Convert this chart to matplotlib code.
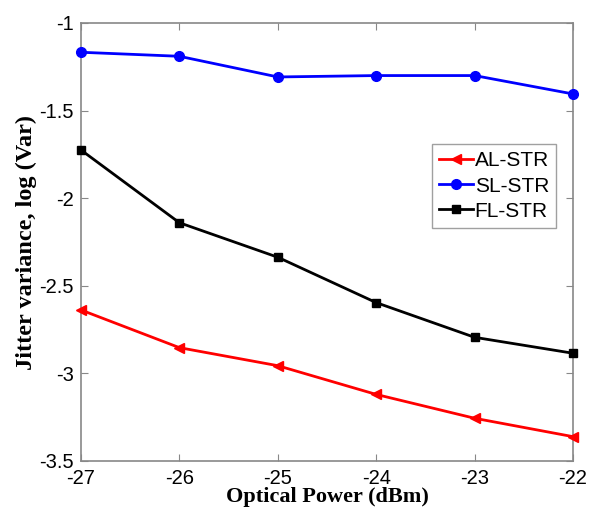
import matplotlib
matplotlib.use("Agg")
import matplotlib.pyplot as plt

power = [-27, -26, -25, -24, -23, -22]
al_str = [-2.638, -2.853, -2.956, -3.12, -3.256, -3.361]
sl_str = [-1.167, -1.19, -1.308, -1.30, -1.30, -1.405]
fl_str = [-1.725, -2.14, -2.337, -2.596, -2.794, -2.885]
xticks = [-27, -26, -25, -24, -23, -22]
yticks = [-3.5, -3, -2.5, -2, -1.5, -1]
ytick_labels = ["-3.5", "-3", "-2.5", "-2", "-1.5", "-1"]

fig = plt.figure(figsize=(5.89, 5.07), dpi=100)
ax = fig.add_axes([81/589, 1 - 461/507, (573-81)/589, (461-23)/507])

ax.plot(power, al_str, color="#ff0000", marker="<", markersize=7, linewidth=2,
        label="AL-STR", clip_on=False, zorder=3)
ax.plot(power, sl_str, color="#0000ff", marker="o", markersize=7, linewidth=2,
        label="SL-STR", clip_on=False, zorder=3)
ax.plot(power, fl_str, color="#000000", marker="s", markersize=6, linewidth=2,
        label="FL-STR", clip_on=False, zorder=3)

ax.set_xlim(-27, -22)
ax.set_ylim(-3.5, -1)
ax.set_xticks(xticks)
ax.set_xticklabels([str(t) for t in xticks])
ax.set_yticks(yticks)
ax.set_yticklabels(ytick_labels)
ax.tick_params(direction="in", top=True, right=True, length=5, color="#888888",
               labelsize=14.5)
ax.tick_params(axis="x", pad=6)
ax.tick_params(axis="y", pad=5)
for lab in ax.get_xticklabels() + ax.get_yticklabels():
    lab.set_family("Liberation Sans")
for s in ax.spines.values():
    s.set_color("#888888")
    s.set_linewidth(1.2)

ax.set_xlabel("Optical Power (dBm)", family="Liberation Serif", fontweight="bold",
              fontsize=16, labelpad=-1)
ax.set_ylabel("Jitter variance, log (Var)", family="Liberation Serif", fontweight="bold",
              fontsize=17.5, labelpad=2)

leg = ax.legend(loc="upper left", bbox_to_anchor=((432-81)/492, (461-144)/438),
                prop={"family": "Liberation Sans", "size": 15}, frameon=True,
                fancybox=False, handlelength=1.6, handletextpad=0.1,
                labelspacing=0.3, borderpad=0.35, borderaxespad=0)
leg.get_frame().set_edgecolor("#888888")
leg.get_frame().set_linewidth(1.0)

fig.savefig("out.png", dpi=100)
